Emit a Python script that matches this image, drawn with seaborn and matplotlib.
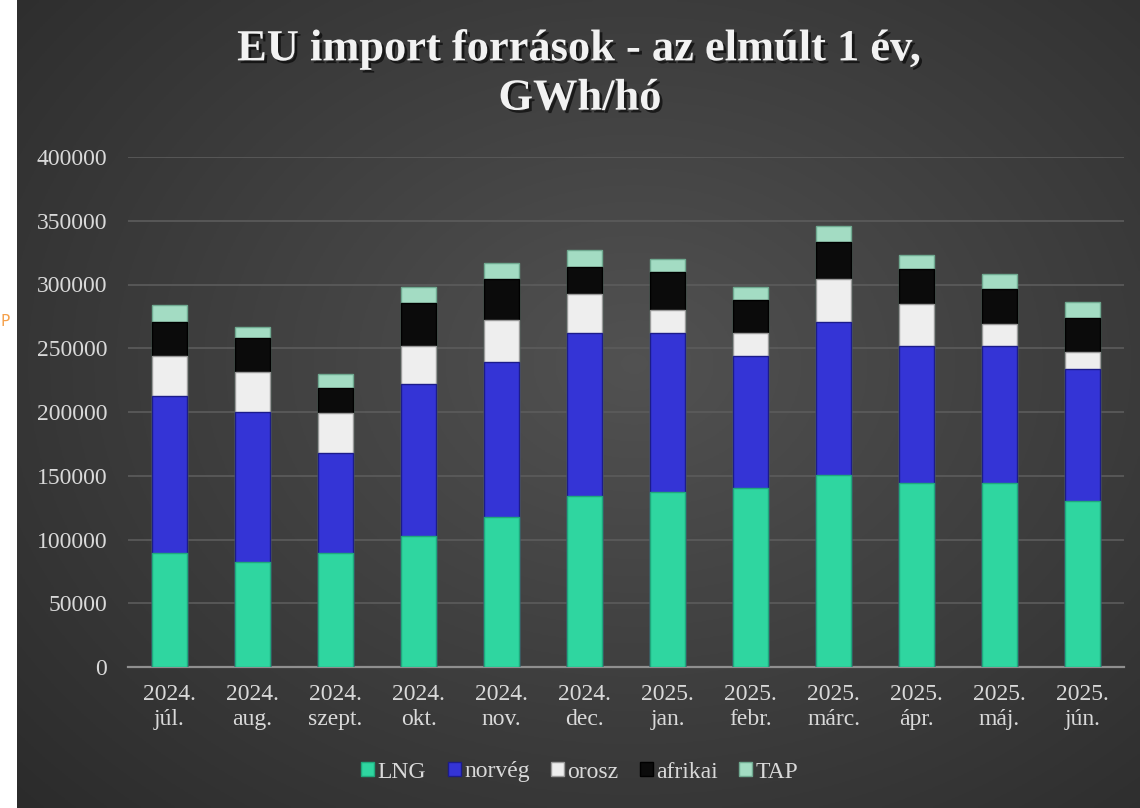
import numpy as np
import pandas as pd
import matplotlib
matplotlib.use('Agg')
import matplotlib.pyplot as plt
import matplotlib.patheffects as pe
from matplotlib.patches import Patch
import seaborn as sns

# Data (GWh / month)
months = ['2024.\njúl.', '2024.\naug.', '2024.\nszept.', '2024.\nokt.', '2024.\nnov.',
          '2024.\ndec.', '2025.\njan.', '2025.\nfebr.', '2025.\nmárc.', '2025.\nápr.',
          '2025.\nmáj.', '2025.\njún.']
lng = [89600, 82400, 89600, 103000, 117400, 134100, 137000, 140700, 150600, 144000, 144000, 130200]
norveg = [123200, 117800, 78500, 118700, 122100, 127600, 124700, 103500, 120200, 108000, 108000, 103500]
orosz = [31200, 31400, 31400, 30100, 32700, 30800, 18300, 18000, 33500, 32700, 17000, 13600]
afrikai = [26800, 26200, 19100, 34000, 31800, 21500, 30000, 25600, 29300, 27200, 27500, 26700]
tap = [13200, 8600, 11200, 12000, 12600, 13000, 9700, 10000, 12300, 11200, 11700, 12000]

series = ['LNG', 'norvég', 'orosz', 'afrikai', 'TAP']
colors = {'LNG': '#2fd6a0', 'norvég': '#3434d6', 'orosz': '#eeeeee',
          'afrikai': '#0b0b0b', 'TAP': '#a3dcc3'}
edges = {'LNG': '#1fa87c', 'norvég': '#1c1c8a', 'orosz': '#9a9a9a',
         'afrikai': '#000000', 'TAP': '#6fa990'}

df = pd.DataFrame({'month': months, 'LNG': lng, 'norvég': norveg, 'orosz': orosz,
                   'afrikai': afrikai, 'TAP': tap})
cum = df[series].cumsum(axis=1)
cum['month'] = df['month']

text_col = '#d9d9d9'
plt.rcParams['font.family'] = ['Liberation Serif', 'DejaVu Serif']

fig = plt.figure(figsize=(11.4, 8.08), dpi=100, facecolor='white')

# dark gradient chart area
bg = fig.add_axes([17 / 1140, 0, 1 - 17 / 1140, 1])
yy, xx = np.mgrid[0:1:300j, 0:1:400j]
r = np.sqrt(((xx - 0.55) / 0.75) ** 2 + ((yy - 0.45) / 0.8) ** 2)
shade = np.clip(0.32 - 0.15 * r, 0.15, 0.32)
bg.imshow(np.dstack([shade] * 3), aspect='auto', extent=[0, 1, 0, 1])
bg.set_axis_off()

fig.text(5 / 1140, 1 - 322 / 808, 'P', color='#f5a04a', fontsize=11,
         family='DejaVu Sans', ha='center', va='center')

ax = fig.add_axes([128 / 1140, 1 - 667 / 808, 996 / 1140, 510 / 808])
ax.set_facecolor('none')

# stacked bars: draw cumulative totals from the top series down
for s in reversed(series):
    sns.barplot(data=cum, x='month', y=s, color=colors[s], width=0.41,
                edgecolor=edges[s], linewidth=1.0, saturation=1, ax=ax, zorder=3)

ax.set_ylim(0, 400000)
ax.set_yticks(range(0, 400001, 50000))
ax.yaxis.grid(True, color='#5c5c5c', linewidth=1.2, zorder=0)
ax.set_axisbelow(True)
ax.tick_params(axis='both', length=0, colors=text_col, labelsize=17)
ax.tick_params(axis='x', pad=12)
ax.tick_params(axis='y', pad=15)
for lab in ax.get_yticklabels():
    lab.set_color(text_col)
for lab in ax.get_xticklabels():
    lab.set_color(text_col)
    lab.set_linespacing(1.3)
for sp in ['top', 'right', 'left']:
    ax.spines[sp].set_visible(False)
ax.spines['bottom'].set_color('#8f8f8f')
ax.spines['bottom'].set_linewidth(1.6)
ax.set_xlabel('')
ax.set_ylabel('')

handles = [Patch(facecolor=colors[s], edgecolor=edges[s], label=s) for s in series]
fig.legend(handles=handles, loc='center', bbox_to_anchor=(580 / 1140, 1 - 772 / 808),
           ncol=5, frameon=False, fontsize=17, labelcolor=text_col,
           handlelength=0.55, handleheight=0.55, handletextpad=0.15, columnspacing=0.9)

fig.text(580 / 1140, 1 - 74 / 808, 'EU import források - az elmúlt 1 év,\nGWh/hó',
         ha='center', va='center', fontsize=32, fontweight='bold', color='#f2f2f2',
         linespacing=1.3,
         path_effects=[pe.withSimplePatchShadow(offset=(2, -2), shadow_rgbFace='black', alpha=0.6)])

fig.savefig('out.png', dpi=100, facecolor=fig.get_facecolor())
